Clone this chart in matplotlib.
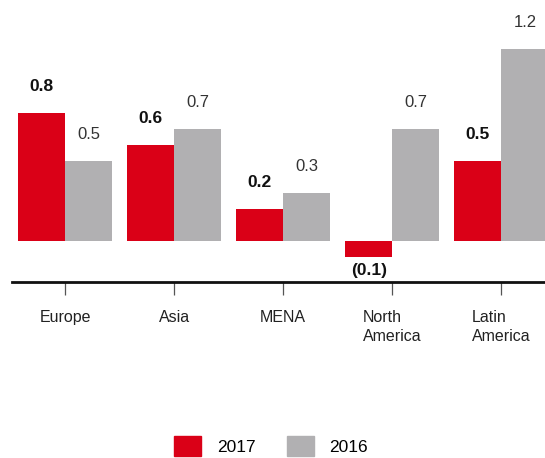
import matplotlib.pyplot as plt
from matplotlib.patches import Patch

plt.rcParams['font.family'] = ['Liberation Sans', 'DejaVu Sans']

# data
regions = ['Europe', 'Asia', 'MENA', 'North\nAmerica', 'Latin\nAmerica']
values_2017 = [0.8, 0.6, 0.2, -0.1, 0.5]
values_2016 = [0.5, 0.7, 0.3, 0.7, 1.2]
series_names = ['2017', '2016']

red = '#DA0017'
grey = '#B1B0B2'

fig = plt.figure(figsize=(5.45, 4.58), dpi=100)
ax = fig.add_axes([12 / 545, 1 - 282 / 458, 533 / 545, 272 / 458])

x = list(range(len(regions)))
w = 0.431
ax.bar([i - w / 2 for i in x], values_2017, width=w, color=red, linewidth=0)
ax.bar([i + w / 2 for i in x], values_2016, width=w, color=grey, linewidth=0)

def fmt(v):
    return '(%.1f)' % abs(v) if v < 0 else '%.1f' % v

for i, v in enumerate(values_2017):
    if v >= 0:
        ax.annotate(fmt(v), (i - w / 2, v), xytext=(0, 19), textcoords='offset points',
                    ha='center', va='center', fontsize=12.5, fontweight='bold', color='#111111')
    else:
        ax.annotate(fmt(v), (i - w / 2, v), xytext=(0, -10), textcoords='offset points',
                    ha='center', va='center', fontsize=12.5, fontweight='bold', color='#111111')
for i, v in enumerate(values_2016):
    ax.annotate(fmt(v), (i + w / 2, v), xytext=(0, 19), textcoords='offset points',
                ha='center', va='center', fontsize=12, color='#333333')

ax.set_xlim(-0.486, 4.40)
ax.set_ylim(-0.256, 1.444)

for s in ['top', 'right', 'left']:
    ax.spines[s].set_visible(False)
ax.spines['bottom'].set_linewidth(2)
ax.spines['bottom'].set_color('#111111')
ax.set_yticks([])
ax.set_xticks(x)
ax.set_xticklabels(regions, fontsize=11.5, color='#222222', multialignment='left',
                   linespacing=1.35)
ax.tick_params(axis='x', direction='out', length=9, width=0.9, color='#555555', pad=11)

handles = [Patch(color=red), Patch(color=grey)]
fig.legend(handles, series_names, loc='center', bbox_to_anchor=(271 / 545, 1 - 446 / 458),
           ncol=2, frameon=False, fontsize=12.5, handlelength=1.55, handleheight=1.45,
           handletextpad=0.9, columnspacing=1.8)

fig.savefig('out.png', dpi=100)
